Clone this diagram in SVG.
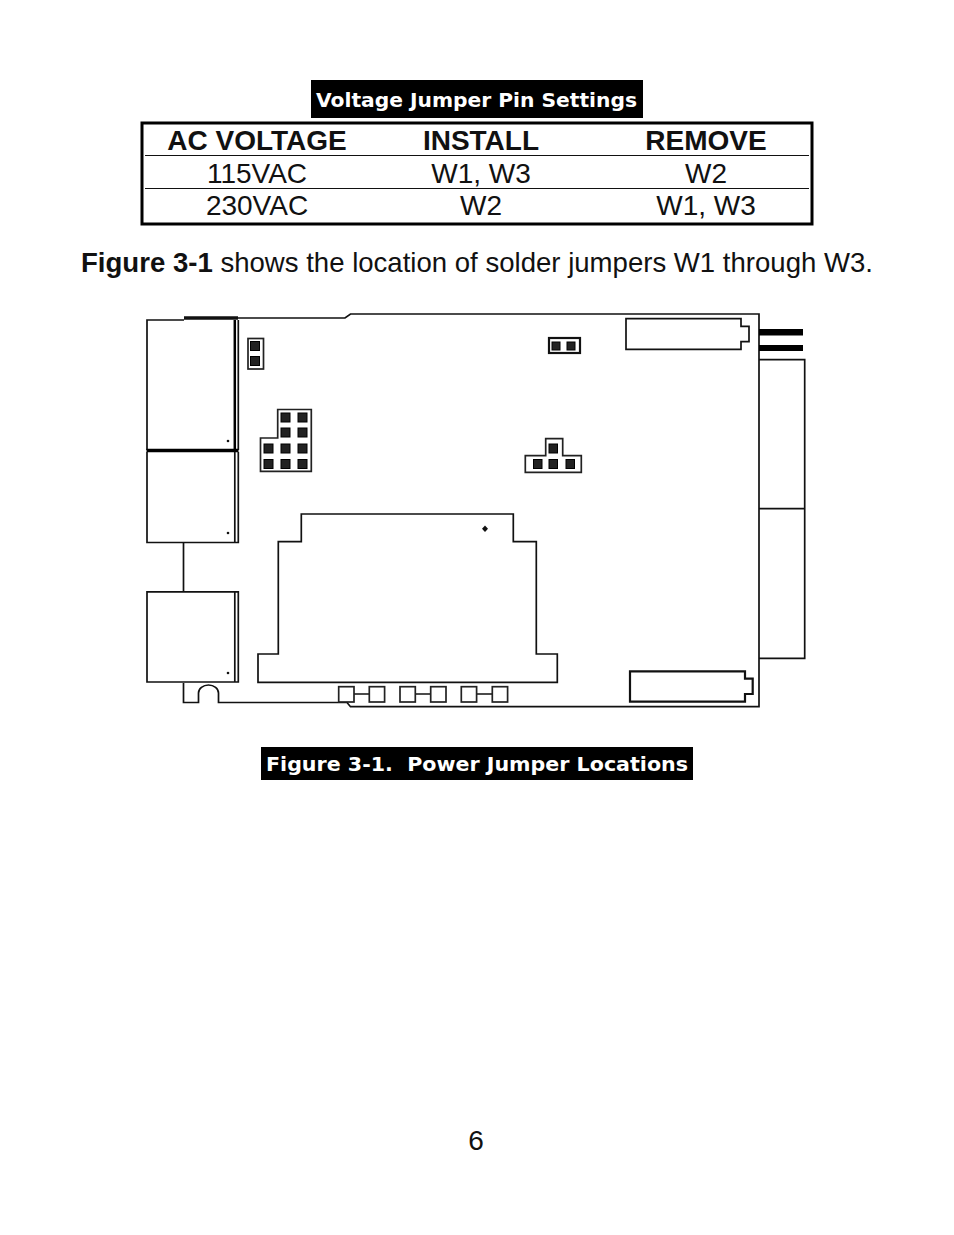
<svg xmlns="http://www.w3.org/2000/svg" width="954" height="1235" viewBox="0 0 954 1235">
<style>
.t{font-family:"Liberation Sans",Arial,sans-serif;font-size:28px;fill:#111;text-anchor:middle}
.b{font-weight:bold}
.cap{font-family:"DejaVu Sans",sans-serif;font-weight:bold;font-size:19.500px;fill:#fff}
.l{fill:none;stroke:#111;stroke-width:1.700}
.m{fill:none;stroke:#111;stroke-width:2.200}
.h{fill:none;stroke:#111;stroke-width:3.500}
.f{fill:#fff;stroke:#222;stroke-width:1.700}
.p{fill:#222;stroke:#000;stroke-width:1}
.d{fill:#111}
</style>
<rect width="954" height="1235" fill="#fff"/>
<g id="table-title"><rect x="311" y="80" width="332" height="38" fill="#000"/>
<text class="cap" x="316" y="106.500" textLength="321" lengthAdjust="spacingAndGlyphs">Voltage Jumper Pin Settings</text></g>
<g id="table">
<rect x="142" y="123" width="670" height="101" fill="none" stroke="#000" stroke-width="3"/>
<path d="M145 155.500H809M145 188.500H809" stroke="#111" stroke-width="1.200" fill="none"/>
<text class="t b" x="257" y="149.500">AC VOLTAGE</text><text class="t b" x="481" y="149.500">INSTALL</text><text class="t b" x="706" y="149.500">REMOVE</text>
<text class="t" x="257" y="182.500">115VAC</text><text class="t" x="481" y="182.500">W1, W3</text><text class="t" x="706" y="182.500">W2</text>
<text class="t" x="257" y="215">230VAC</text><text class="t" x="481" y="215">W2</text><text class="t" x="706" y="215">W1, W3</text>
</g>
<text id="sentence" class="t" x="81" y="272" font-size="27" style="text-anchor:start" textLength="792" lengthAdjust="spacingAndGlyphs"><tspan class="b">Figure 3-1</tspan> shows the location of solder jumpers W1 through W3.</text>
<g id="board">
<path class="l" d="M183.500 683V702.500H198.500V693A10 8 0 0 1 218.500 693V702.500H347L350.500 706.700H759V314H350.500L345 318H238"/>
<path d="M184 318H238" class="h"/>
<path class="l" d="M183.500 542V592"/>
</g>
<g id="block-1"><path class="l" d="M184 320H147V450M238.300 320V450"/><path d="M234.800 320V450" stroke="#000" stroke-width="2.500"/><path d="M146.500 450.500H238.500" stroke="#000" stroke-width="3.500"/><circle class="d" cx="228" cy="441" r="1.300"/></g>
<g id="block-2"><path class="l" d="M147 452V542.500H238.300V452M234.800 452V542.500"/><circle class="d" cx="228" cy="533" r="1.300"/></g>
<g id="block-3"><path class="l" d="M147 591.800H238.300V682H147ZM234.800 591.800V682"/><circle class="d" cx="228" cy="673" r="1.300"/></g>
<g id="jumper-w-left"><rect class="f" x="248" y="338.500" width="15.500" height="30.500"/><rect class="p" x="250.500" y="341.500" width="9" height="9"/><rect class="p" x="250.500" y="356.500" width="9" height="9"/></g>
<g id="jumper-grid"><path class="f" d="M277.700 409.500H311.300V471.300H260.500V438H277.700Z"/>
<rect class="p" x="281" y="413" width="9" height="9"/><rect class="p" x="298" y="413" width="9" height="9"/>
<rect class="p" x="281" y="428" width="9" height="9"/><rect class="p" x="298" y="428" width="9" height="9"/>
<rect class="p" x="264" y="444" width="9" height="9"/><rect class="p" x="281" y="444" width="9" height="9"/><rect class="p" x="298" y="444" width="9" height="9"/>
<rect class="p" x="264" y="459.500" width="9" height="9"/><rect class="p" x="281" y="459.500" width="9" height="9"/><rect class="p" x="298" y="459.500" width="9" height="9"/></g>
<g id="jumper-top"><rect x="549" y="338" width="31" height="15" fill="#fff" stroke="#111" stroke-width="2.200"/><rect class="p" x="552" y="342" width="8" height="8"/><rect class="p" x="567" y="342" width="8" height="8"/></g>
<g id="jumper-t"><path class="f" d="M545.700 438.700H562.700V455.700H581.300V472.300H525.300V455.700H545.700Z"/>
<rect class="p" x="549" y="444" width="8.500" height="9"/><rect class="p" x="533.500" y="459.500" width="8.500" height="9"/><rect class="p" x="549" y="459.500" width="8.500" height="9"/><rect class="p" x="566" y="459.500" width="8.500" height="9"/></g>
<g id="connector-top"><path class="l" d="M626 318.700H741V326.300H749V341.700H741V349.300H626Z"/></g>
<g id="connector-bottom"><path class="m" d="M630 671.300H745V678.700H752.700V694H745V701.700H630Z"/></g>
<g id="bars"><rect x="759" y="329" width="44" height="6.500" fill="#000"/><rect x="759" y="345" width="44" height="6" fill="#000"/></g>
<g id="right-ports"><path class="l" d="M759 359.700H804.700V658.300H759M759 508.700H804.700"/></g>
<g id="module"><path class="l" d="M301.300 514H513.300V541.700H536.300V654H557.300V682.300H258V654H278.300V541.700H301.300Z"/><path class="d" d="M485 525.500L488 528.700L485 532L482 528.700Z"/></g>
<g id="pads">
<path class="l" d="M354 694H369M415.300 694H430.700M476.700 694H492"/>
<rect class="f" x="338.700" y="686.700" width="15.300" height="15.300"/><rect class="f" x="369.300" y="686.700" width="15.300" height="15.300"/>
<rect class="f" x="400" y="686.700" width="15.300" height="15.300"/><rect class="f" x="430.700" y="686.700" width="15.300" height="15.300"/>
<rect class="f" x="461.300" y="686.700" width="15.300" height="15.300"/><rect class="f" x="492.300" y="686.700" width="15.300" height="15.300"/>
</g>
<g id="caption"><rect x="261" y="747" width="432" height="33" fill="#000"/>
<text class="cap" x="266" y="771" textLength="422" lengthAdjust="spacingAndGlyphs" xml:space="preserve">Figure 3-1.  Power Jumper Locations</text></g>
<text id="page" class="t" x="476" y="1150" font-size="29">6</text>
</svg>
